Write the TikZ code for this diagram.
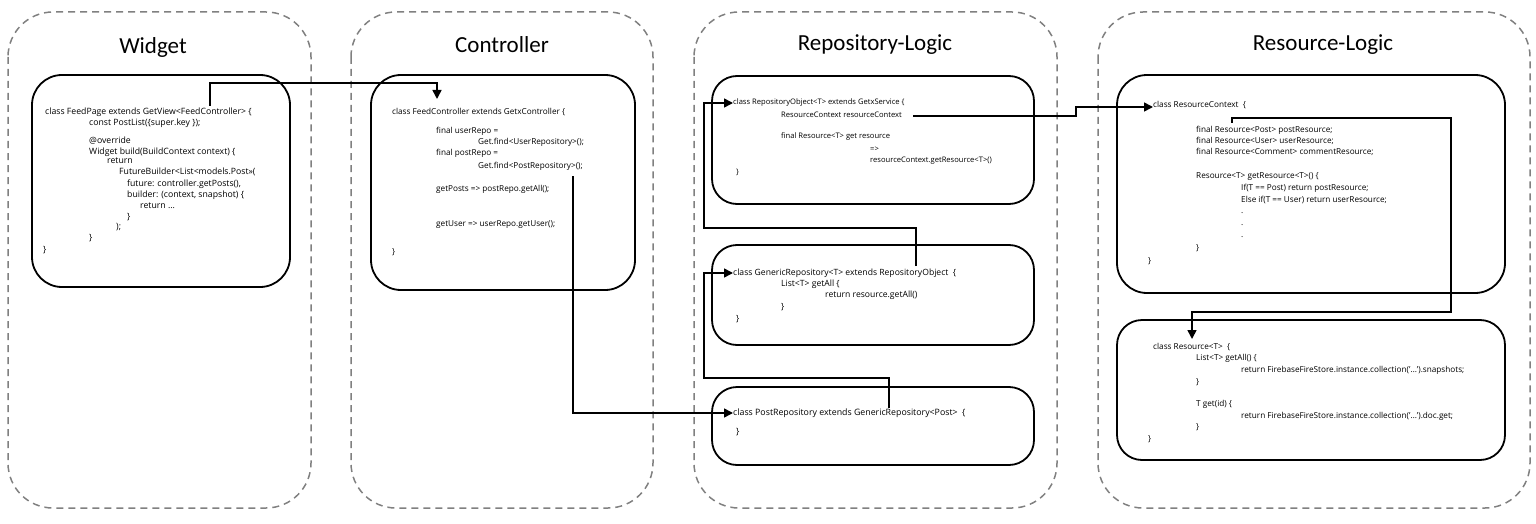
\documentclass[tikz,border=0pt]{standalone}
\usepackage{fontspec}
\setmainfont{Open Sans}
\newfontfamily\titlefont{Carlito}
\usetikzlibrary{arrows.meta}
\begin{document}
\begin{tikzpicture}[x=1pt,y=-1pt,
  group/.style={draw=black!50, line width=1.5pt, dash pattern=on 7pt off 5pt, rounded corners=45pt},
  codebox/.style={draw=black, line width=1.8pt, rounded corners=25pt},
  code/.style={anchor=west, inner sep=0pt, text height=6pt, text depth=2pt, font=\fontsize{#1}{10}\selectfont},
  code/.default=8.2,
  title/.style={font=\titlefont\fontsize{23}{26}\selectfont},
  conn/.style={line width=1.6pt, -{Triangle[length=9pt,width=9pt]}}]
\useasboundingbox (0,0) rectangle (1536,524);
% groups
\draw[group] (8,12) rectangle (311,508);
\draw[group] (351,12) rectangle (653,508);
\draw[group] (694,12) rectangle (1057,508);
\draw[group] (1098,12) rectangle (1530,508);
\node[title] (tW) at (153,47) {Widget};
\node[title] (tC) at (502,45) {Controller};
\node[title] (tR) at (875,45) {Repository-Logic};
\node[title] (tS) at (1323,45) {Resource-Logic};
% code boxes
\draw[codebox, rounded corners=30pt] (32,75) rectangle (290,287);
\draw[codebox, rounded corners=30pt] (371,75) rectangle (635,290);
\draw[codebox] (712,76) rectangle (1034,204);
\draw[codebox] (712,245) rectangle (1034,345);
\draw[codebox] (712,387) rectangle (1034,465);
\draw[codebox, rounded corners=30pt] (1117,75) rectangle (1505,293);
\draw[codebox] (1117,320) rectangle (1505,460);
% Widget code
\begin{scope}[every node/.append style={code=8.7}]
\node (w1) at (45,113) {class FeedPage extends GetView<FeedController> \{};
\node (w2) at (89,124) {const PostList(\{super.key \});};
\node (w3) at (89,141) {@override};
\node (w4) at (89,152) {Widget build(BuildContext context) \{};
\node (w5) at (107,162) {return};
\node (w6) at (119,173) {FutureBuilder<List<models.Post>>(};
\node (w7) at (127,184) {future: controller.getPosts(),};
\node (w8) at (127,195) {builder: (context, snapshot) \{};
\node (w9) at (140,206) {return …};
\node (w10) at (127,217) {\}};
\node (w11) at (116,227) {);};
\node (w12) at (89,238) {\}};
\node (w13) at (43,250) {\}};
\end{scope}
% Controller code
\begin{scope}[every node/.append style={code=8.2}]
\node (c1) at (392,112) {class FeedController extends GetxController \{};
\node (c2) at (436,132) {final userRepo =};
\node (c3) at (478,143) {Get.find<UserRepository>();};
\node (c4) at (436,154) {final postRepo =};
\node (c5) at (478,166) {Get.find<PostRepository>();};
\node (c6) at (436,189) {getPosts => postRepo.getAll();};
\node (c7) at (436,224) {getUser => userRepo.getUser();};
\node (c8) at (392,252) {\}};
\end{scope}
% RepositoryObject
\begin{scope}[every node/.append style={code=7.6}]
\node (o1) at (733,103) {class RepositoryObject<T> extends GetxService \{};
\node (o2) at (781,116) {ResourceContext resourceContext};
\node (o3) at (781,137) {final Resource<T> get resource};
\node (o4) at (870,149) {=>};
\node (o5) at (870,160) {resourceContext.getResource<T>()};
\node (o6) at (736,172) {\}};
\end{scope}
% GenericRepository
\begin{scope}[every node/.append style={code=8.6}]
\node (g1) at (733,273) {class GenericRepository<T> extends RepositoryObject\ \ \{};
\node (g2) at (781,284) {List<T> getAll \{};
\node (g3) at (825,295) {return resource.getAll()};
\node (g4) at (781,307) {\}};
\node (g5) at (736,319) {\}};
\end{scope}
% PostRepository
\begin{scope}[every node/.append style={code=8.8}]
\node (p1) at (733,413) {class PostRepository extends GenericRepository<Post>\ \ \{};
\node (p2) at (736,432) {\}};
\end{scope}
% ResourceContext
\begin{scope}[every node/.append style={code=8.2}]
\node (r1) at (1153,106) {class ResourceContext\ \ \{};
\node (r2) at (1196,130) {final Resource<Post> postResource;};
\node (r3) at (1196,141) {final Resource<User> userResource;};
\node (r4) at (1196,152) {final Resource<Comment> commentResource;};
\node (r5) at (1196,176) {Resource<T> getResource<T>() \{};
\node (r6) at (1241,188) {If(T == Post) return postResource;};
\node (r7) at (1241,200) {Else if(T == User) return userResource;};
\node (r8) at (1241,211) {.};
\node (r9) at (1241,223) {.};
\node (r10) at (1241,235) {.};
\node (r11) at (1196,248) {\}};
\node (r12) at (1148,261) {\}};
\end{scope}
% Resource<T>
\begin{scope}[every node/.append style={code=8.2}]
\node (s1) at (1153,347) {class Resource<T>\ \ \{};
\node (s2) at (1196,358) {List<T> getAll() \{};
\node (s3) at (1241,370) {return FirebaseFireStore.instance.collection('…').snapshots;};
\node (s4) at (1196,382) {\}};
\node (s5) at (1196,404) {T get(id) \{};
\node (s6) at (1241,416) {return FirebaseFireStore.instance.collection('…').doc.get;};
\node (s7) at (1196,427) {\}};
\node (s8) at (1148,439) {\}};
\end{scope}
% connector anchors
\coordinate (aW) at (210,106);
\coordinate (aC) at (437,99);
\coordinate (aP) at (573,176);
\coordinate (aG) at (889,408);
\coordinate (aO) at (916,266);
\coordinate (aRC) at (913,116);
\coordinate (aRP) at (1232,123);
\coordinate (aS) at (1192,339);
% connectors
\draw[conn] (aW) |- (437,83) -- (aC);
\draw[conn] (aP) |- (p1.west);
\draw[conn] (aG) |- (704,378) |- (g1.west);
\draw[conn] (aO) |- (704,228) |- (o1.west);
\draw[conn] (aRC) -| (1076,107) -- (r1.west |- 0,107);
\draw[conn] (aRP) |- (1451,118) |- (1192,312) -- (aS);
\end{tikzpicture}
\end{document}
